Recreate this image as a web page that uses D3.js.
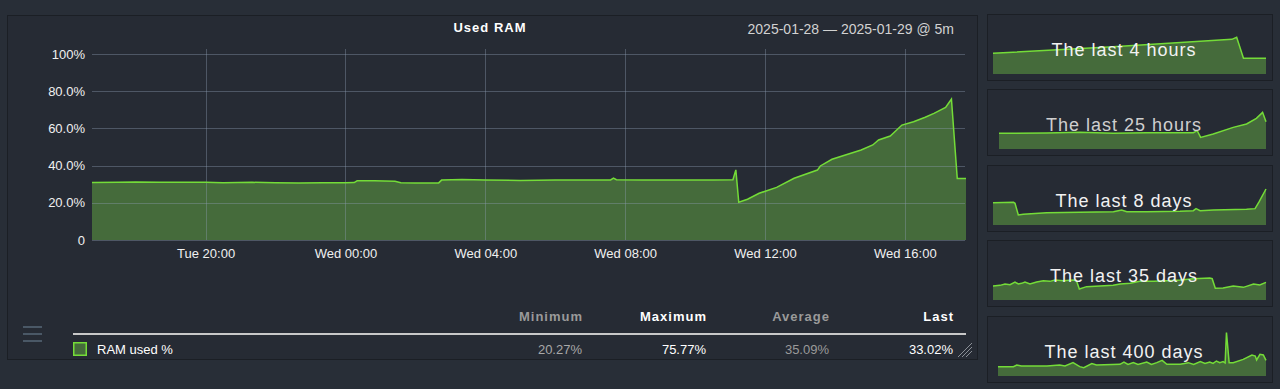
<!DOCTYPE html>
<html>
<head>
<meta charset="utf-8">
<script src="https://cdn.jsdelivr.net/npm/d3@7"></script>
<style>
  body { margin: 0; background: #282e37; }
  svg text { font-family: "Liberation Sans", Arial, Helvetica, sans-serif; }
</style>
</head>
<body>
<div id="chart"></div>
<script>
// main series: RAM used % (2025-01-28 16:45 -> 2025-01-29 17:45)
var ramTimes = ["2025-01-28 16:45", "2025-01-28 17:30", "2025-01-28 18:00", "2025-01-28 18:40",
  "2025-01-28 19:20", "2025-01-28 20:00", "2025-01-28 20:30", "2025-01-28 21:20", "2025-01-28 22:00",
  "2025-01-28 22:40", "2025-01-28 23:20", "2025-01-29 00:00", "2025-01-29 00:15", "2025-01-29 00:20",
  "2025-01-29 00:50", "2025-01-29 01:25", "2025-01-29 01:35", "2025-01-29 02:00", "2025-01-29 02:40",
  "2025-01-29 02:45", "2025-01-29 03:20", "2025-01-29 04:00", "2025-01-29 05:00", "2025-01-29 06:00",
  "2025-01-29 07:00", "2025-01-29 07:35", "2025-01-29 07:40", "2025-01-29 07:45", "2025-01-29 08:30",
  "2025-01-29 09:30", "2025-01-29 10:30", "2025-01-29 11:05", "2025-01-29 11:10", "2025-01-29 11:15",
  "2025-01-29 11:30", "2025-01-29 11:50", "2025-01-29 12:20", "2025-01-29 12:50", "2025-01-29 13:30",
  "2025-01-29 13:35", "2025-01-29 13:55", "2025-01-29 14:45", "2025-01-29 15:05", "2025-01-29 15:15",
  "2025-01-29 15:35", "2025-01-29 15:55", "2025-01-29 16:15", "2025-01-29 16:35", "2025-01-29 16:50",
  "2025-01-29 17:10", "2025-01-29 17:15", "2025-01-29 17:20", "2025-01-29 17:30", "2025-01-29 17:45"];
var ramValues = [30.9, 31.0, 31.2, 31.0,
  31.1, 31.1, 30.8, 31.0, 30.8,
  30.6, 30.8, 30.8, 30.9, 31.8,
  31.9, 31.6, 30.8, 30.6, 30.7,
  32.2, 32.5, 32.2, 32.0, 32.2,
  32.2, 32.3, 33.3, 32.4, 32.3,
  32.3, 32.3, 32.4, 37.7, 20.27,
  21.9, 25.1, 28.3, 33.2, 37.6,
  39.8, 43.4, 48.4, 51.1, 53.8,
  55.9, 61.8, 63.6, 66.0, 68.1,
  71.3, 73.5, 75.77, 33.02, 33.02];

var yTicks = [0, 20, 40, 60, 80, 100];
var yTickLabels = ["0", "20.0%", "40.0%", "60.0%", "80.0%", "100%"];
var xTicks = ["2025-01-28 20:00", "2025-01-29 00:00", "2025-01-29 04:00", "2025-01-29 08:00",
  "2025-01-29 12:00", "2025-01-29 16:00"];

// legend
var legendHeaders = ["Minimum", "Maximum", "Average", "Last"];
var legendValues = ["20.27%", "75.77%", "35.09%", "33.02%"];

// sparklines: offsets from window start (hours or days) and values in %
var spark4hT = [0, 1.76, 3.5, 3.57, 3.67, 4];
var spark4hV = [41.3, 54.7, 69.3, 73.3, 31.3, 31.3];
var spark25hT = [0, 4.46, 7.58, 10.7, 13.8, 16.9, 18.2, 18.56, 18.88, 20.06, 21.93, 23.18, 24.1, 24.68, 25];
var spark25hV = [31.3, 32, 33.3, 31.3, 32.7, 32.7, 32.7, 36.7, 23.3, 30, 43.3, 50, 61.3, 73.3, 54.7];
var spark8dT = [0, 0.6, 0.645, 0.742, 0.889, 1.57, 2.55, 3.53, 3.77, 3.92, 4.5, 5.48, 5.87, 5.95, 6.07, 6.46, 7.43, 7.68, 7.8, 8];
var spark8dV = [44.7, 45.3, 43.3, 20, 21.3, 24.7, 25.3, 26.7, 30, 26.7, 26.7, 27.3, 28.7, 32.7, 28.7, 30, 31.3, 32.7, 46.7, 72];
var spark35dT = [0, 0.9, 1.54, 2.18, 2.82, 3.25, 3.67, 4.1, 4.74, 5.6, 6.45, 7.3, 7.95, 9.0, 10.3, 10.7, 11.07,
  12.0, 13.7, 15.4, 16.3, 17.6, 18.8, 20.6, 22.3, 24.0, 25.7, 27.8, 28.1, 28.5, 29.5, 30.8, 32.1, 33.4, 34.2, 35];
var spark35dV = [28, 29.3, 32, 30.7, 36, 32, 33.3, 36, 32, 36, 38.7, 37.3, 40, 38.7, 40, 38.7, 22,
  26.7, 28, 29.3, 32, 33.3, 37.3, 37.3, 38.7, 40, 42.7, 44, 42.7, 23.3, 24, 28, 25.3, 32, 30, 35.3];
var spark400dT = [0, 23, 28, 35, 73, 92, 100, 112, 122, 128, 140, 147, 182, 188, 194, 202, 209, 222, 229, 237,
  245, 252, 272, 284, 292, 302, 309, 316, 321, 326, 331, 336, 339, 341, 345, 351, 366, 379, 384, 386, 391, 396, 400];
var spark400dV = [18.7, 18.7, 22, 20, 20, 22, 20, 26.7, 18.7, 16.7, 24.7, 22, 23.3, 28, 23.3, 26.7, 23.3, 28, 23.3, 26.7,
  31.3, 23.3, 23.3, 26.7, 23.3, 28.7, 25.3, 28, 25.3, 30, 26.7, 28.7, 26, 86.7, 26.7, 26.7, 33.3, 42, 40, 32, 43.3, 42, 31.3];

var sparkTitles = ["The last 4 hours", "The last 25 hours", "The last 8 days", "The last 35 days", "The last 400 days"];
var sparkSpans = [4, 25, 8, 35, 400];
var sparkTimes = [spark4hT, spark25hT, spark8dT, spark35dT, spark400dT];
var sparkValues = [spark4hV, spark25hV, spark8dV, spark35dV, spark400dV];

// colours
var lineColor = "#74dc38";
var areaColor = "#456b3b";
var panelColor = "#262b34";
var panelBorder = "#1b1f25";
var gridColor = "rgba(140,155,175,0.4)";

var svgWidth = 1280;
var svgHeight = 389;

var svg = d3.select("#chart")
  .append("svg")
  .attr("width", svgWidth)
  .attr("height", svgHeight);

// main panel
svg.append("rect")
  .attr("x", 7.5).attr("y", 15.5)
  .attr("width", 970).attr("height", 344)
  .attr("fill", panelColor)
  .attr("stroke", panelBorder);

var parseTime = d3.timeParse("%Y-%m-%d %H:%M");
var ramData = ramTimes.map(function(t, i) {
  return { time: parseTime(t), value: ramValues[i] };
});

var plot = { left: 92, right: 966, top: 54, bottom: 240 };

var xScale = d3.scaleTime()
  .domain([parseTime("2025-01-28 16:45"), parseTime("2025-01-29 17:45")])
  .range([plot.left, plot.right]);

var yScale = d3.scaleLinear()
  .domain([0, 100])
  .range([plot.bottom, plot.top]);

// area + line
var area = d3.area()
  .x(d => xScale(d.time))
  .y0(yScale(0))
  .y1(d => yScale(d.value));

var line = d3.line()
  .x(d => xScale(d.time))
  .y(d => yScale(d.value));

svg.append("path")
  .datum(ramData)
  .attr("d", area)
  .attr("fill", areaColor);

// grid lines sit on top of the area
var grid = svg.append("g");
grid.selectAll("line.h")
  .data(yTicks)
  .enter()
  .append("line")
  .attr("x1", plot.left)
  .attr("x2", plot.right - 1)
  .attr("y1", d => Math.round(yScale(d)) + 0.5)
  .attr("y2", d => Math.round(yScale(d)) + 0.5)
  .attr("stroke", gridColor);

grid.selectAll("line.v")
  .data(xTicks)
  .enter()
  .append("line")
  .attr("x1", d => Math.round(xScale(parseTime(d))) + 0.5)
  .attr("x2", d => Math.round(xScale(parseTime(d))) + 0.5)
  .attr("y1", plot.top - 5)
  .attr("y2", plot.bottom)
  .attr("stroke", gridColor);

svg.append("path")
  .datum(ramData)
  .attr("d", line)
  .attr("fill", "none")
  .attr("stroke", lineColor)
  .attr("stroke-width", 1.5);

// axes
var leftAxis = d3.axisLeft(yScale)
  .tickValues(yTicks)
  .tickFormat((d, i) => yTickLabels[i])
  .tickSize(0)
  .tickPadding(7);

var bottomAxis = d3.axisBottom(xScale)
  .tickValues(xTicks.map(parseTime))
  .tickFormat(d3.timeFormat("%a %H:%M"))
  .tickSize(0)
  .tickPadding(9);

svg.append("g")
  .attr("transform", `translate(${plot.left}, 0)`)
  .call(leftAxis)
  .call(g => g.select(".domain").remove())
  .selectAll("text")
  .attr("fill", "#f0f0f0")
  .attr("font-size", 13)
  .attr("font-family", "Liberation Sans, Arial, sans-serif");

svg.append("g")
  .attr("transform", `translate(0, ${plot.bottom})`)
  .call(bottomAxis)
  .call(g => g.select(".domain").remove())
  .selectAll("text")
  .attr("fill", "#f0f0f0")
  .attr("font-size", 13)
  .attr("font-family", "Liberation Sans, Arial, sans-serif");

// titles
svg.append("text")
  .attr("x", 490).attr("y", 32)
  .attr("text-anchor", "middle")
  .attr("font-size", 13)
  .attr("font-weight", "bold")
  .attr("letter-spacing", 1)
  .attr("fill", "#ffffff")
  .text("Used RAM");

svg.append("text")
  .attr("x", 954).attr("y", 34)
  .attr("text-anchor", "end")
  .attr("font-size", 14)
  .attr("fill", "#d2d2d2")
  .text("2025-01-28 — 2025-01-29 @ 5m");

// hamburger icon
svg.append("g").selectAll("rect")
  .data([0, 1, 2])
  .enter()
  .append("rect")
  .attr("x", 23).attr("y", d => 326 + d * 7)
  .attr("width", 19).attr("height", 2)
  .attr("fill", "#4a5866");

// legend table
var colRight = [582, 706, 829, 953];
var headColor = ["#9a9a9a", "#ffffff", "#9a9a9a", "#ffffff"];
var valColor = ["#a8a8a8", "#ffffff", "#9a9a9a", "#ffffff"];

svg.append("g").selectAll("text")
  .data(legendHeaders)
  .enter()
  .append("text")
  .attr("x", (d, i) => colRight[i] + 1)
  .attr("y", 321)
  .attr("text-anchor", "end")
  .attr("font-size", 13)
  .attr("font-weight", "bold")
  .attr("letter-spacing", 1)
  .attr("fill", (d, i) => headColor[i])
  .text(d => d);

svg.append("line")
  .attr("x1", 73).attr("x2", 966)
  .attr("y1", 334).attr("y2", 334)
  .attr("stroke", "#c8c8c8")
  .attr("stroke-width", 2);

svg.append("rect")
  .attr("x", 73.75).attr("y", 342.75)
  .attr("width", 12.5).attr("height", 12.5)
  .attr("fill", areaColor)
  .attr("stroke", lineColor)
  .attr("stroke-width", 1.5);

svg.append("text")
  .attr("x", 97).attr("y", 354)
  .attr("font-size", 13)
  .attr("fill", "#ffffff")
  .text("RAM used %");

svg.append("g").selectAll("text")
  .data(legendValues)
  .enter()
  .append("text")
  .attr("x", (d, i) => colRight[i])
  .attr("y", 354)
  .attr("text-anchor", "end")
  .attr("font-size", 13)
  .attr("fill", (d, i) => valColor[i])
  .text(d => d);

// resize grip
svg.append("g").selectAll("line")
  .data([0, 1, 2])
  .enter()
  .append("line")
  .attr("x1", d => 958 + d * 4).attr("y1", 357)
  .attr("x2", 972).attr("y2", d => 343 + d * 4)
  .attr("stroke", "#8a8f96")
  .attr("stroke-width", 1);

// sparkline panels on the right
var sparkPanelTop = [14, 89, 165, 240, 316];
var sparkPlotLeft = [993, 999, 993, 993, 998];
var sparkTextColor = ["#f2f2f2", "#cfcfcf", "#f2f2f2", "#f2f2f2", "#f2f2f2"];

sparkTitles.forEach(function(title, k) {
  var top = sparkPanelTop[k];
  var g = svg.append("g");

  g.append("rect")
    .attr("x", 987.5).attr("y", top + 0.5)
    .attr("width", 285).attr("height", 66)
    .attr("fill", panelColor)
    .attr("stroke", panelBorder);

  var sx = d3.scaleLinear()
    .domain([0, sparkSpans[k]])
    .range([sparkPlotLeft[k], 1266]);
  var sy = d3.scaleLinear()
    .domain([0, 100])
    .range([top + 60, top + 10]);

  var pts = sparkTimes[k].map((t, i) => ({ t: t, v: sparkValues[k][i] }));

  g.append("path")
    .datum(pts)
    .attr("d", d3.area().x(d => sx(d.t)).y0(sy(0)).y1(d => sy(d.v)))
    .attr("fill", areaColor);

  g.append("path")
    .datum(pts)
    .attr("d", d3.line().x(d => sx(d.t)).y(d => sy(d.v)))
    .attr("fill", "none")
    .attr("stroke", lineColor)
    .attr("stroke-width", 1.5);

  g.append("text")
    .attr("x", 1124).attr("y", top + 42)
    .attr("text-anchor", "middle")
    .attr("font-size", 18)
    .attr("letter-spacing", 1)
    .attr("fill", sparkTextColor[k])
    .text(title);
});
</script>
</body>
</html>
